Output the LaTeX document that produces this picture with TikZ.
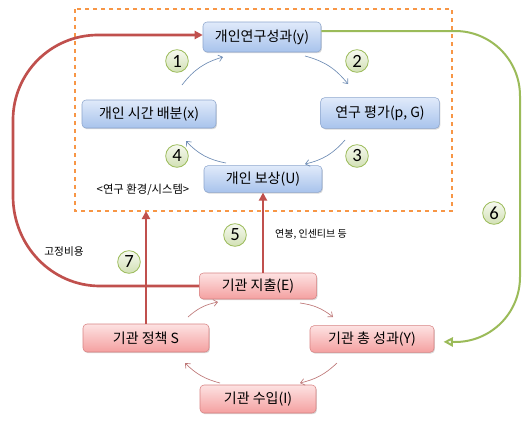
\documentclass[tikz,border=0pt]{standalone}
\usepackage{fontspec}
\setmainfont{Noto Sans CJK KR}
\newfontfamily\numfont{Carlito}
\usetikzlibrary{arrows.meta,shadows}
\definecolor{redln}{RGB}{192,80,77}
\definecolor{greenln}{RGB}{155,187,89}
\definecolor{orangeln}{RGB}{247,150,70}
\definecolor{bluetop}{RGB}{224,234,250}
\definecolor{bluebot}{RGB}{168,195,236}
\definecolor{blueborder}{RGB}{140,165,205}
\definecolor{redtop}{RGB}{253,226,226}
\definecolor{redbot}{RGB}{244,160,160}
\definecolor{redborder}{RGB}{215,130,130}
\definecolor{thinblue}{RGB}{110,140,180}
\definecolor{thinred}{RGB}{190,120,120}
\tikzset{
  bluebox/.style={draw=blueborder, rounded corners=3pt, top color=bluetop, bottom color=bluebot, font=\fontsize{10.5}{12}\selectfont, inner sep=1pt, drop shadow={shadow xshift=0.7pt, shadow yshift=-0.9pt, opacity=0.3}},
  redbox/.style={draw=redborder, rounded corners=3pt, top color=redtop, bottom color=redbot, font=\fontsize{10.5}{12}\selectfont, inner sep=1pt, drop shadow={shadow xshift=0.7pt, shadow yshift=-0.9pt, opacity=0.3}},
  numc/.style={circle, draw=greenln, line width=0.6pt, top color=white!70!greenln!30, bottom color=greenln!45, minimum size=17pt, inner sep=0pt, font=\numfont\fontsize{14}{14}\selectfont},
  thickred/.style={draw=redln, line width=2pt, -{Triangle[length=6pt,width=6pt]}},
  thinarrb/.style={draw=thinblue, line width=0.5pt, -{Straight Barb[length=3pt,width=5pt]}},
  thinarrr/.style={draw=thinred, line width=0.5pt, -{Straight Barb[length=3pt,width=5pt]}},
  lbl/.style={font=\fontsize{7.5}{9}\selectfont, inner sep=0pt}
}
\begin{document}
\begin{tikzpicture}[x=0.75pt,y=-0.75pt]
\useasboundingbox (0,0) rectangle (532,425);
% dashed environment box
\draw[orangeln, dashed, line width=1pt] (75,9) rectangle (452,211);
% top nodes
\node[bluebox, minimum width=88.5pt, minimum height=22.5pt] (yp) at (262,37) {개인연구성과(y)};
\node[bluebox, minimum width=100.5pt, minimum height=21pt] (xp) at (149,114) {개인 시간 배분(x)};
\node[bluebox, minimum width=89pt, minimum height=23pt] (pg) at (380,113) {연구 평가(p, G)};
\node[bluebox, minimum width=88.5pt, minimum height=20pt] (up) at (263,179) {개인 보상(U)};
\node[lbl, font=\fontsize{8.5}{10}\selectfont] (env) at (143,190) {<연구 환경/시스템>};
% bottom nodes
\node[redbox, minimum width=88pt, minimum height=19.5pt] (E) at (258,286) {기관 지출(E)};
\node[redbox, minimum width=94.5pt, minimum height=21pt] (S) at (146,338) {기관 정책 S};
\node[redbox, minimum width=93pt, minimum height=20pt] (Y) at (372,339) {기관 총 성과(Y)};
\node[redbox, minimum width=87pt, minimum height=21pt] (I) at (258,399) {기관 수입(I)};
% thin cycle arrows (top)
\coordinate (a1s) at (182,85); \coordinate (a1e) at (223,57);
\coordinate (a2s) at (305,56); \coordinate (a2e) at (348,84);
\coordinate (a3s) at (345,140); \coordinate (a3e) at (305,164);
\coordinate (a4s) at (226,163); \coordinate (a4e) at (186,141);
\draw[thinarrb] (a1s) to[bend left=18] (a1e);
\draw[thinarrb] (a2s) to[bend left=18] (a2e);
\draw[thinarrb] (a3s) to[bend left=18] (a3e);
\draw[thinarrb] (a4s) to[bend left=18] (a4e);
% thin cycle arrows (bottom)
\coordinate (b1s) at (300,303); \coordinate (b1e) at (333,317);
\coordinate (b2s) at (337,363); \coordinate (b2e) at (300,383);
\coordinate (b3s) at (220,383); \coordinate (b3e) at (185,363);
\coordinate (b4s) at (188,317); \coordinate (b4e) at (218,302);
\draw[thinarrr] (b1s) to[bend left=15] (b1e);
\draw[thinarrr] (b2s) to[bend left=15] (b2e);
\draw[thinarrr] (b3s) to[bend left=15] (b3e);
\draw[thinarrr] (b4s) to[bend left=15] (b4e);
% thick red connectors
\coordinate (envS) at (S.north |- 0,211);
\draw[thickred] (S.north) -- (envS);
\draw[thickred] (E.north -| up.south) -- (up.south);
\draw[thickred] (E.west) -- (100,286) .. controls (52,286) and (13,246) .. (13,196) -- (13,120) .. controls (13,73) and (51,35) .. (98,35) -- (yp.west |- 0,35);
% green connector
\draw[greenln, line width=1.5pt, -{Triangle[open,length=7pt,width=7pt]}, shorten >=7pt] ([yshift=4.5pt]yp.east) -- (455,31) .. controls (491,31) and (520,60) .. (520,96) -- (520,277) .. controls (520,313) and (491,342) .. (455,342) -- ([yshift=-2pt]Y.east);
% number circles
\node[numc] (n1) at (177,61) {1};
\node[numc] (n2) at (357,61) {2};
\node[numc] (n3) at (357,156) {3};
\node[numc] (n4) at (177,156) {4};
\node[numc] (n5) at (235,235) {5};
\node[numc] (n6) at (494,213) {6};
\node[numc] (n7) at (129,262) {7};
% labels
\node[lbl, font=\fontsize{8}{9}\selectfont] (fix) at (64,252) {고정비용};
\node[lbl] (pay) at (311,234) {연봉, 인센티브 등};
\end{tikzpicture}
\end{document}
